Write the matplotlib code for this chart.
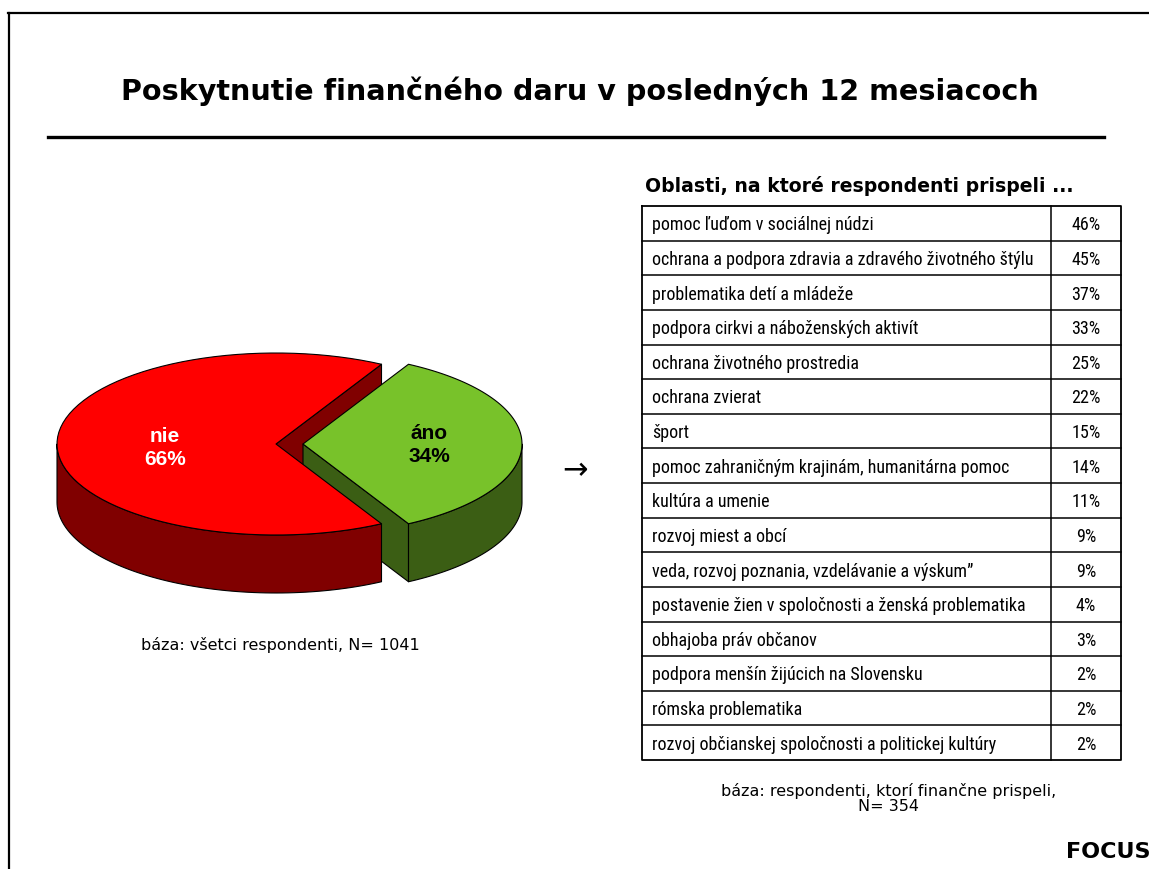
import numpy as np
import matplotlib
matplotlib.use("Agg")
from matplotlib import pyplot as plt
from matplotlib.patches import Polygon
from matplotlib import font_manager as fm

# --- data ---
pie_labels = ["nie", "áno"]
pie_values = [66, 34]

areas = [
    "pomoc ľuďom v sociálnej núdzi",
    "ochrana a podpora zdravia a zdravého životného štýlu",
    "problematika detí a mládeže",
    "podpora cirkvi a náboženských aktivít",
    "ochrana životného prostredia",
    "ochrana zvierat",
    "šport",
    "pomoc zahraničným krajinám, humanitárna pomoc",
    "kultúra a umenie",
    "rozvoj miest a obcí",
    "veda, rozvoj poznania, vzdelávanie a výskum\u02ee",
    "postavenie žien v spoločnosti a ženská problematika",
    "obhajoba práv občanov",
    "podpora menšín žijúcich na Slovensku",
    "rómska problematika",
    "rozvoj občianskej spoločnosti a politickej kultúry",
]
area_pct = [46, 45, 37, 33, 25, 22, 15, 14, 11, 9, 9, 4, 3, 2, 2, 2]

title = "Poskytnutie finančného daru v posledných 12 mesiacoch"
table_title = "Oblasti, na ktoré respondenti prispeli ..."
base_left = "báza: všetci respondenti, N= 1041"
base_right = "báza: respondenti, ktorí finančne prispeli,\nN= 354"


# narrow font for the table (Arial Narrow look-alike)
def find_narrow():
    fonts = fm.fontManager.ttflist
    for key in ["LiberationSansNarrow-Regular", "RobotoCondensed-Regular"]:
        for f in fonts:
            if key.lower() in f.fname.lower():
                return fm.FontProperties(fname=f.fname)
    for f in fonts:
        if f.name == "DejaVu Sans" and f.stretch == "condensed" and f.weight in (400, "normal") \
                and f.style == "normal":
            return fm.FontProperties(fname=f.fname)
    return fm.FontProperties(family="Liberation Sans")


W, H = 1149, 870
fig = plt.figure(figsize=(W / 100, H / 100), dpi=100)
ax = fig.add_axes([0, 0, 1, 1])
ax.set_xlim(0, W)
ax.set_ylim(H, 0)
ax.axis("off")

VERD = ["DejaVu Sans"]
ARIAL = ["Liberation Sans"]
narrow = find_narrow()

# frame + title rule
ax.plot([9, 9], [14, H], color="black", lw=1.6)
ax.plot([8, W], [14, 14], color="black", lw=1.6)
ax.plot([48, 1104], [138, 138], color="black", lw=2.4)
ax.text(580, 100, title, ha="center", va="baseline", fontsize=20.6,
        fontweight="bold", family=VERD)

# --- 3D pie ---
cx, cy, rx, ry, depth = 276, 445, 219, 91, 58
explode = 27
top_cols = ["#FF0000", "#78C22A"]
side_cols = ["#800000", "#3B5E14"]


def pt(c, th, dz=0):
    return (c[0] + rx * np.cos(th), c[1] - ry * np.sin(th) + dz)


def arc(c, a1, a2, dz=0, n=80):
    th = np.linspace(a1, a2, n)
    return [pt(c, t, dz) for t in th]


def radial_face(c, a):
    p = pt(c, a)
    return [c, p, (p[0], p[1] + depth), (c[0], c[1] + depth)]


def wall(c, a1, a2):
    return arc(c, a1, a2) + arc(c, a2, a1, depth)


span_g = 2 * np.pi * pie_values[1] / sum(pie_values)
cr, r1, r2 = (cx, cy), span_g / 2, 2 * np.pi - span_g / 2
cg, g1, g2 = (cx + explode, cy), -span_g / 2, span_g / 2

kw = dict(ec="black", lw=0.8, joinstyle="round")
# red start face (seen through the gap)
ax.add_patch(Polygon(radial_face(cr, r1), fc=side_cols[0], **kw))
# green start face and front wall
ax.add_patch(Polygon(radial_face(cg, g1), fc=side_cols[1], **kw))
ax.add_patch(Polygon(wall(cg, g1, 0), fc=side_cols[1], **kw))
# red front wall and top
ax.add_patch(Polygon(wall(cr, np.pi, r2), fc=side_cols[0], **kw))
ax.add_patch(Polygon([cr] + arc(cr, r1, r2), fc=top_cols[0], **kw))
# green top
ax.add_patch(Polygon([cg] + arc(cg, g1, g2), fc=top_cols[1], **kw))

ax.text(165, 448, f"{pie_labels[0]}\n{pie_values[0]}%", ha="center", va="center",
        fontsize=15, fontweight="bold", color="white", family=ARIAL, linespacing=1.25)
ax.text(429, 445, f"{pie_labels[1]}\n{pie_values[1]}%", ha="center", va="center",
        fontsize=15, fontweight="bold", color="black", family=ARIAL, linespacing=1.25)

ax.text(575, 471, "\u2192", ha="center", va="center", fontsize=22, family=VERD)
ax.text(280, 645, base_left, ha="center", va="center", fontsize=11.5, family=VERD)

# --- table ---
ax.text(645, 186, table_title, ha="left", va="center", fontsize=13.6,
        fontweight="bold", family=VERD)
x0, xm, x1 = 642, 1051, 1121
y0, y1 = 207, 761
rh = (y1 - y0) / len(areas)

# size the narrow font so the longest row is as wide as in the reference (~379 px)
renderer = fig.canvas.get_renderer()
probe = ax.text(0, 0, areas[1], fontproperties=narrow, fontsize=12)
wpx = probe.get_window_extent(renderer).width
probe.remove()
tsize = min(14, 12 * 379 / wpx)
narrow.set_size(tsize)

for i, (name, p) in enumerate(zip(areas, area_pct)):
    yc = y0 + (i + 0.5) * rh
    ax.text(652, yc + 1, name, ha="left", va="center", fontproperties=narrow)
    ax.text(1086, yc + 1, f"{p}%", ha="center", va="center", fontproperties=narrow)
    if i > 0:
        ax.plot([x0, x1], [y0 + i * rh] * 2, color="black", lw=1.1)
ax.plot([xm, xm], [y0, y1], color="black", lw=1.1)
ax.plot([x0, x1, x1, x0, x0], [y0, y0, y1, y1, y0], color="black", lw=1.3)

ax.text(889, 799, base_right, ha="center", va="center", fontsize=11.5,
        family=VERD, linespacing=1.0)
ax.text(1150, 852, "FOCUS", ha="right", va="center", fontsize=16,
        fontweight="bold", family=VERD)

fig.savefig("out.png", dpi=100)
